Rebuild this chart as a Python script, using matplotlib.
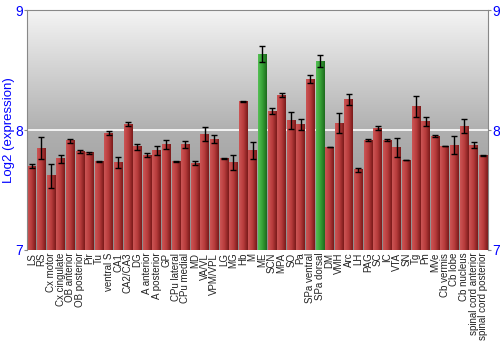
import numpy as np
import matplotlib.pyplot as plt
from matplotlib.colors import LinearSegmentedColormap

plt.rcParams['font.family'] = ['Liberation Sans', 'DejaVu Sans']

regions = ['LS', 'RS', 'Cx motor', 'Cx cingulate', 'OB anterior', 'OB posterior', 'Pir', 'Tu',
           'ventral S', 'CA1', 'CA2/CA3', 'DG', 'A anterior', 'A posterior', 'GP', 'CPu lateral',
           'CPu medial', 'MD', 'VA/VL', 'VPM/VPL', 'LG', 'MG', 'Hb', 'M', 'ME', 'SCN', 'MPA', 'SO',
           'Pa', 'SPa ventral', 'SPa dorsal', 'DM', 'VMH', 'Arc', 'LH', 'PAG', 'SC', 'IC', 'VTA',
           'SN', 'Tg', 'Pn', 'MVe', 'Cb vermis', 'Cb lobe', 'Cb nucleus', 'spinal cord anterior',
           'spinal cord posterior']
expr = [7.70, 7.85, 7.62, 7.76, 7.91, 7.82, 7.81, 7.74,
        7.975, 7.73, 8.05, 7.86, 7.79, 7.83, 7.88, 7.74,
        7.88, 7.725, 7.967, 7.925, 7.76, 7.73, 8.24, 7.83,
        8.633, 8.158, 8.289, 8.078, 8.047, 8.425, 8.575, 7.858,
        8.058, 8.258, 7.67, 7.917, 8.017, 7.917, 7.853, 7.75,
        8.194, 8.072, 7.95, 7.867, 7.872, 8.033, 7.875, 7.786]
err = [0.015, 0.09, 0.10, 0.033, 0.017, 0.01, 0.01, 0.003,
       0.02, 0.045, 0.015, 0.025, 0.017, 0.035, 0.04, 0.003,
       0.03, 0.015, 0.058, 0.033, 0.003, 0.064, 0.006, 0.07,
       0.068, 0.022, 0.017, 0.072, 0.043, 0.03, 0.047, 0.003,
       0.08, 0.046, 0.017, 0.006, 0.02, 0.005, 0.08, 0.003,
       0.087, 0.04, 0.006, 0.002, 0.075, 0.058, 0.025, 0.003]
highlight = ['ME', 'SPa dorsal']

ymin, ymax = 7, 9
red_cm = LinearSegmentedColormap.from_list('r', ['#cc5555', '#b83c3c', '#7a1a1a'])
green_cm = LinearSegmentedColormap.from_list('g', ['#55c055', '#35a035', '#1d6a1d'])
bg_cm = LinearSegmentedColormap.from_list('bg', ['#8c8c8c', '#b0b0b0', '#f4f4f4'])

fig = plt.figure(figsize=(5, 3.5), dpi=100)
ax = fig.add_axes([0.054, 0.286, 0.922, 0.685])
n = len(regions)
x = np.arange(n)

ax.imshow(np.linspace(0, 1, 256).reshape(-1, 1), cmap=bg_cm, origin='lower', aspect='auto',
          extent=[-0.5, n - 0.5, ymin, ymax], zorder=0)
ax.axhline(8, color='white', lw=1.2, zorder=1)

w = 0.9
grad = np.linspace(0, 1, 64).reshape(1, -1)
for i, (name, v, e) in enumerate(zip(regions, expr, err)):
    cm = green_cm if name in highlight else red_cm
    ax.imshow(grad, cmap=cm, aspect='auto', extent=[i - w / 2, i + w / 2, ymin, v], zorder=2)
    ax.errorbar(i, v, yerr=e, color='black', lw=1, capsize=2, capthick=1, zorder=3)

ax.set_xlim(-0.5, n - 0.5)
ax.set_ylim(ymin, ymax)
ax.set_yticks([7, 8, 9])
ax.tick_params(axis='y', colors='#888888', labelcolor='blue', labelsize=10, length=2,
               left=True, right=True, labelright=True, pad=1)
ax.set_xticks(x)
ax.set_xticklabels(regions, rotation=90, fontsize=7, color='#222222')
ax.tick_params(axis='x', length=0, pad=2)
for s in ax.spines.values():
    s.set_color('#888888')
ax.spines['bottom'].set_visible(False)
ax.set_ylabel('Log2 (expression)', color='blue', fontsize=9.5, va='center')
ax.yaxis.set_label_coords(-0.039, 0.5)

fig.savefig('out.png', dpi=100)
